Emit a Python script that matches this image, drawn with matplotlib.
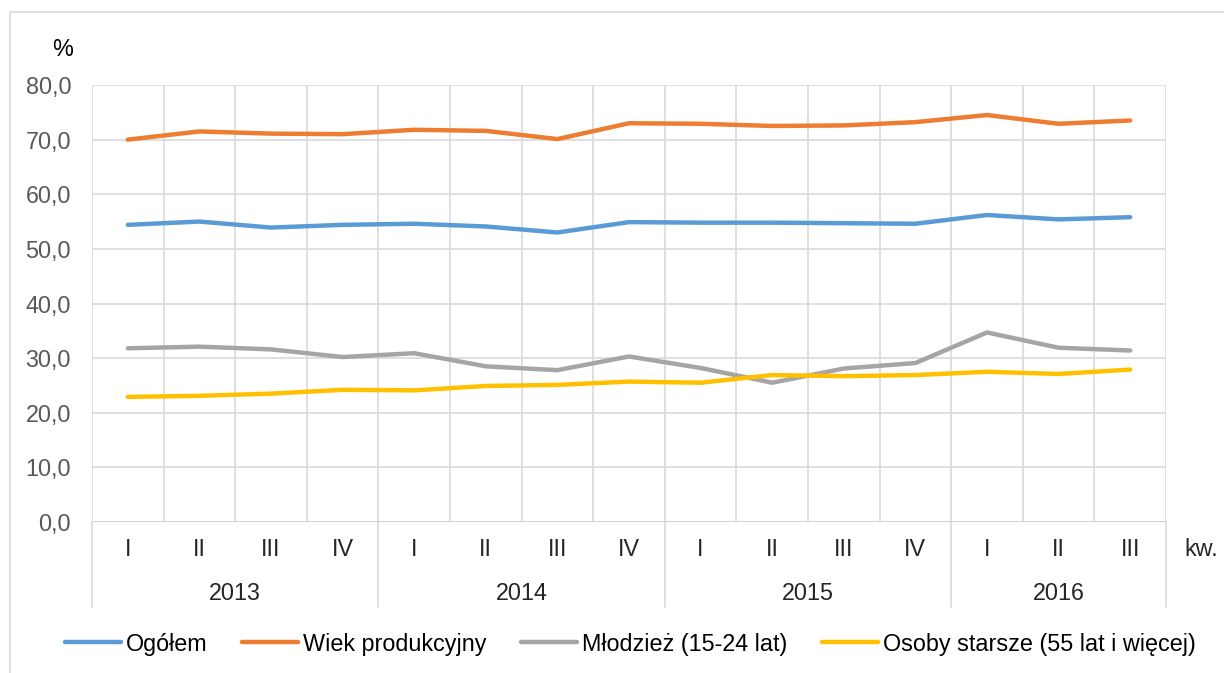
import matplotlib
matplotlib.use("Agg")
import matplotlib.pyplot as plt
from matplotlib.patches import Rectangle
from matplotlib.lines import Line2D

quarters = ["I", "II", "III", "IV", "I", "II", "III", "IV", "I", "II", "III", "IV", "I", "II", "III"]
years = ["2013", "2014", "2015", "2016"]
year_sizes = [4, 4, 4, 3]

ogolem = [54.4, 55.0, 53.9, 54.4, 54.6, 54.1, 53.0, 54.9, 54.8, 54.8, 54.7, 54.6, 56.2, 55.4, 55.8]
wiek_prod = [70.0, 71.5, 71.1, 71.0, 71.8, 71.6, 70.1, 73.0, 72.9, 72.5, 72.6, 73.2, 74.5, 72.9, 73.5]
mlodziez = [31.8, 32.1, 31.6, 30.2, 30.9, 28.5, 27.8, 30.3, 28.2, 25.5, 28.1, 29.1, 34.7, 31.9, 31.4]
starsi = [22.9, 23.1, 23.5, 24.2, 24.1, 24.9, 25.1, 25.7, 25.5, 26.9, 26.7, 26.9, 27.5, 27.1, 27.9]

series = [
    ("Ogółem", ogolem, "#5B9BD5"),
    ("Wiek produkcyjny", wiek_prod, "#ED7D31"),
    ("Młodzież (15-24 lat)", mlodziez, "#A5A5A5"),
    ("Osoby starsze (55 lat i więcej)", starsi, "#FFC000"),
]

plt.rcParams["font.family"] = ["Liberation Sans", "DejaVu Sans"]
FS = 16.8

W, H = 1224, 673
fig = plt.figure(figsize=(W / 100, H / 100), dpi=100)
fig.patch.set_facecolor("white")

# chart border
fig.patches.append(Rectangle((10 / W, -0.2), 1.2, 1.2 - 12 / H, transform=fig.transFigure,
                             fill=False, edgecolor="#D9D9D9", linewidth=1.2))

left, right, top, bottom = 92, 1166, 85, 522
ax = fig.add_axes([left / W, 1 - bottom / H, (right - left) / W, (bottom - top) / H])

n = len(quarters)
x = [i + 0.5 for i in range(n)]
for name, vals, col in series:
    ax.plot(x, vals, color=col, linewidth=3.2, solid_capstyle="round", label=name, zorder=3)

ax.set_xlim(0, n)
ax.set_ylim(0, 80)
ax.set_yticks(range(0, 81, 10))
ax.set_yticklabels([f"{v:.1f}".replace(".", ",") for v in range(0, 81, 10)],
                   fontsize=FS, color="#595959")
ax.tick_params(axis="y", length=0, pad=15)
ax.set_xticks(range(0, n + 1))
ax.set_xticklabels([])
ax.tick_params(axis="x", length=0)
ax.grid(True, color="#D9D9D9", linewidth=1.2, zorder=0)
for s in ax.spines.values():
    s.set_visible(False)
ax.axhline(0, color="#D0D0D0", linewidth=1.4, zorder=2)

trans = ax.get_xaxis_transform()
axh = bottom - top
for i, q in enumerate(quarters):
    ax.text(i + 0.5, -(550 - bottom) / axh, q, transform=trans, ha="center", va="center",
            fontsize=FS, color="#262626")

pos = 0
bounds = [0]
for yr, sz in zip(years, year_sizes):
    ax.text(pos + sz / 2, -(593 - bottom) / axh, yr, transform=trans, ha="center", va="center",
            fontsize=FS, color="#262626")
    pos += sz
    bounds.append(pos)
for b in bounds:
    ax.plot([b, b], [0, -(607 - bottom) / axh], transform=trans, color="#D9D9D9",
            linewidth=1.2, clip_on=False)

ax.text(1184 / W, 1 - 549 / H, "kw.", transform=fig.transFigure, ha="left", va="center",
        fontsize=FS, color="#262626")
ax.text(63 / W, 1 - 50 / H, "%", transform=fig.transFigure, ha="center", va="center",
        fontsize=FS, color="black")

handles = [Line2D([0], [0], color=c, linewidth=3.2, solid_capstyle="round") for _, _, c in series]
fig.legend(handles, [s[0] for s in series], loc="center", bbox_to_anchor=(0.515, 1 - 644 / H),
           ncol=4, frameon=False, fontsize=FS, handlelength=2.4, handletextpad=0.2,
           columnspacing=1.5, borderpad=0, borderaxespad=0)

fig.savefig("out.png", dpi=100, facecolor="white")
